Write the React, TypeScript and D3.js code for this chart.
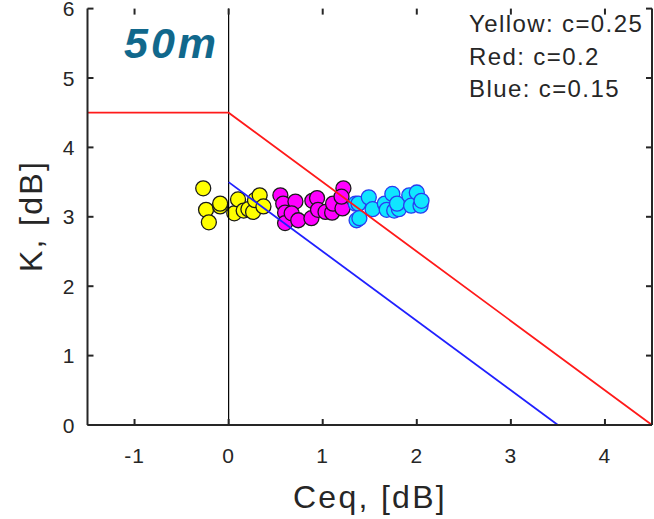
import * as d3 from "d3";

// Scatter clusters (Ceq, K)
const yellowX = [-0.27, -0.24, -0.21, -0.09, -0.09, 0.06, 0.1, 0.16, 0.21, 0.26, 0.28, 0.33, 0.37];
const yellowY = [3.41, 3.1, 2.92, 3.15, 3.19, 3.05, 3.25, 3.09, 3.11, 3.07, 3.24, 3.31, 3.15];
const magentaX = [0.55, 0.58, 0.6, 0.6, 0.71, 0.67, 0.74, 0.89, 0.94, 0.88, 0.95, 1.03, 1.1, 1.11, 1.21, 1.22, 1.2];
const magentaY = [3.31, 3.19, 3.06, 2.91, 3.22, 3.05, 2.95, 3.23, 3.27, 2.98, 3.1, 3.07, 3.06, 3.19, 3.12, 3.41, 3.29];
const cyanX = [1.35, 1.36, 1.38, 1.39, 1.49, 1.53, 1.66, 1.68, 1.74, 1.76, 1.81, 1.79, 1.92, 1.94, 2.0, 2.04, 2.05];
const cyanY = [3.19, 2.95, 3.19, 2.98, 3.28, 3.11, 3.19, 3.1, 3.33, 3.09, 3.11, 3.19, 3.31, 3.16, 3.35, 3.16, 3.23];

const redLineX = [-1.5, 0, 4.5];
const redLineY = [4.5, 4.5, 0];
const blueLineX = [0, 3.5];
const blueLineY = [3.5, 0];

const xTicks = [-1, 0, 1, 2, 3, 4];
const yTicks = [0, 1, 2, 3, 4, 5, 6];
const legendLines = ["Yellow: c=0.25", "Red: c=0.2", "Blue: c=0.15"];

const font = "'Liberation Sans', Arial, Helvetica, sans-serif";
const axisColor = "#262626";

function App() {
    const width = 654;
    const height = 519;
    const margin = {top: 8.6, right: 2, bottom: 94, left: 87.5};

    const xScale = d3.scaleLinear()
        .domain([-1.5, 4.5])
        .range([margin.left, width - margin.right]);
    const yScale = d3.scaleLinear()
        .domain([0, 6])
        .range([height - margin.bottom, margin.top]);

    const line = d3.line<[number, number]>()
        .x(d => xScale(d[0]))
        .y(d => yScale(d[1]));

    const series = [
        {xs: yellowX, ys: yellowY, fill: "#ffff00", stroke: "#1a1a1a"},
        {xs: magentaX, ys: magentaY, fill: "#ff00ff", stroke: "#1a1a1a"},
        {xs: cyanX, ys: cyanY, fill: "#10e6ff", stroke: "#2a3cf0"},
    ];

    const x0 = xScale.range()[0], x1 = xScale.range()[1];
    const y0 = yScale.range()[0], y1 = yScale.range()[1];
    const tick = 6;

    return (
        <svg width={width} height={height} style={{position: "absolute", left: 0, top: 0, background: "white"}}
             fontFamily={font}>
            {/* points */}
            {series.map((s, i) =>
                s.xs.map((x, j) =>
                    <circle key={i + "-" + j} cx={xScale(x)} cy={yScale(s.ys[j])} r={7.5}
                            fill={s.fill} stroke={s.stroke} strokeWidth={1.3}/>
                )
            )}

            {/* lines */}
            <line x1={xScale(0)} x2={xScale(0)} y1={y0} y2={y1} stroke="black" strokeWidth={1.2}/>
            <path d={line(redLineX.map((x, i) => [x, redLineY[i]]))!} fill="none" stroke="#ff1a1a" strokeWidth={1.8}/>
            <path d={line(blueLineX.map((x, i) => [x, blueLineY[i]]))!} fill="none" stroke="#2020ff" strokeWidth={1.8}/>

            {/* axes box */}
            <line x1={x0} x2={x1} y1={y0} y2={y0} stroke={axisColor} strokeWidth={2}/>
            <line x1={x0} x2={x0} y1={y0} y2={y1} stroke={axisColor} strokeWidth={2}/>
            <line x1={x1} x2={x1} y1={y0} y2={y1} stroke={axisColor} strokeWidth={2}/>
            {xTicks.map(t =>
                <g key={"x" + t}>
                    <line x1={xScale(t)} x2={xScale(t)} y1={y0} y2={y0 - tick} stroke={axisColor} strokeWidth={2}/>
                    <line x1={xScale(t)} x2={xScale(t)} y1={y1} y2={y1 + tick} stroke={axisColor} strokeWidth={2}/>
                    <text x={xScale(t)} y={y0 + 38} textAnchor="middle" fontSize={21} letterSpacing={1}
                          fill={axisColor}>{t}</text>
                </g>
            )}
            {yTicks.map(t =>
                <g key={"y" + t}>
                    <line x1={x0} x2={x0 + tick} y1={yScale(t)} y2={yScale(t)} stroke={axisColor} strokeWidth={2}/>
                    <line x1={x1} x2={x1 - tick} y1={yScale(t)} y2={yScale(t)} stroke={axisColor} strokeWidth={2}/>
                    <text x={x0 - 13} y={yScale(t) + 7.5} textAnchor="end" fontSize={21} fill={axisColor}>{t}</text>
                </g>
            )}

            {/* axis labels */}
            <text x={370} y={508} textAnchor="middle" fontSize={32} letterSpacing={2.3} fill={axisColor}>Ceq, [dB]</text>
            <text transform={`translate(42, 216) rotate(-90)`} textAnchor="middle" fontSize={32} letterSpacing={2.3}
                  fill={axisColor}>K, [dB]</text>

            {/* title */}
            <text x={124} y={58} fontSize={43} fontWeight="bold" fontStyle="italic" letterSpacing={3}
                  fill="#11688c">50m</text>

            {/* legend */}
            {legendLines.map((l, i) =>
                <text key={l} x={469} y={32 + i * 32.5} fontSize={24} letterSpacing={1.4} fill={axisColor}>{l}</text>
            )}
        </svg>
    );
}

export default App;
